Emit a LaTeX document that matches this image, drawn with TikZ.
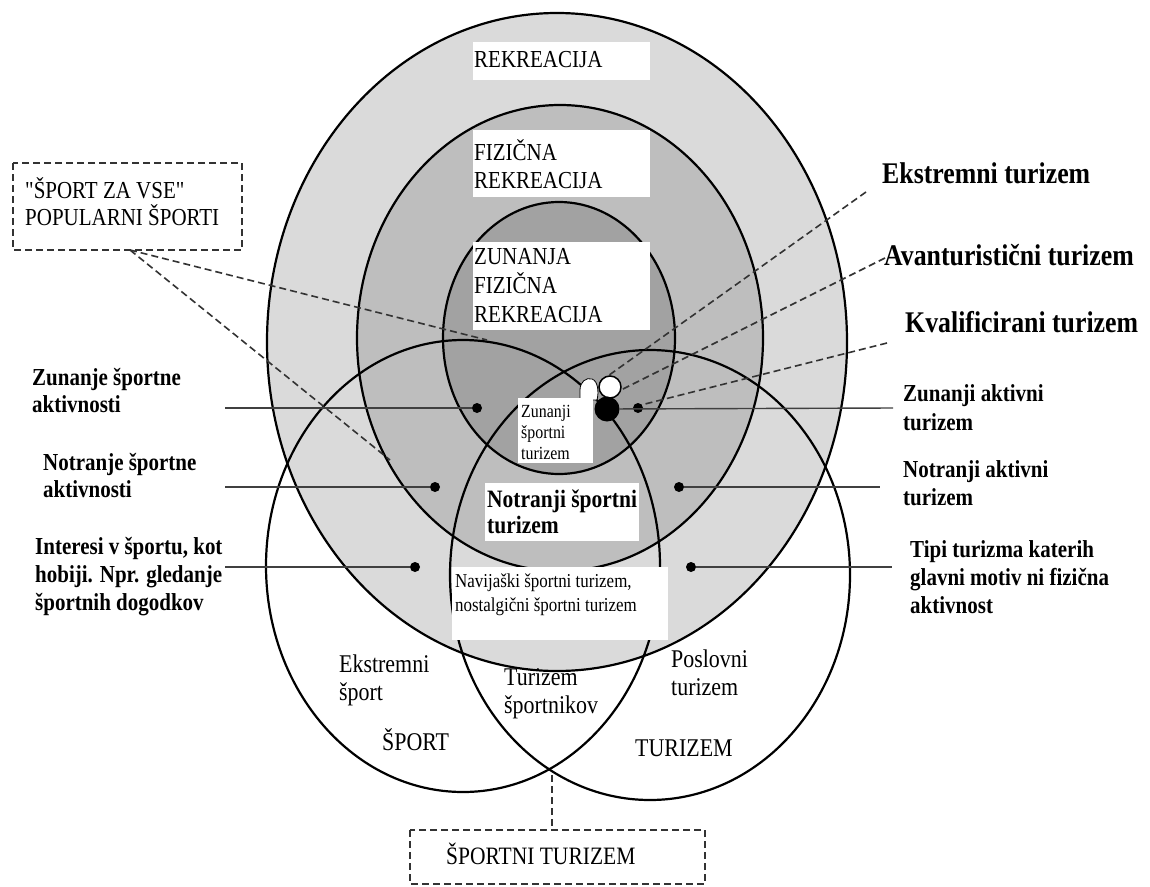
\documentclass[tikz,border=0pt]{standalone}
\usepackage{fontspec}
\setmainfont{Liberation Serif}[Ligatures=TeXOff, FakeStretch=0.86]
\definecolor{cA}{HTML}{DADADA}
\definecolor{cB}{HTML}{BEBEBE}
\definecolor{cC}{HTML}{A2A2A2}
\begin{document}
\begin{tikzpicture}[x=1pt,y=-1pt,
  ring/.style={draw=black, line width=2.2pt},
  hline/.style={draw=black!75, line width=1.4pt},
  dline/.style={draw=black!80, line width=1.6pt, dash pattern=on 7pt off 4pt},
  dotnode/.style={circle, fill=black, inner sep=0pt, minimum size=10pt},
  lbl/.style={font=\bfseries\fontsize{24.4}{28}\selectfont, align=left, inner sep=0pt, anchor=base west},
  biglbl/.style={font=\bfseries\fontsize{30}{34}\selectfont, inner sep=0pt, anchor=base west},
  boxtxt/.style={font=\fontsize{24.4}{29}\selectfont, align=left, inner sep=0pt, anchor=base west},
  circtxt/.style={font=\fontsize{25.5}{28}\selectfont, align=left, inner sep=0pt, anchor=base west}]
\useasboundingbox (0,0) rectangle (1150,886);
\fill[white] (0,0) rectangle (1150,886);
% nested rings
\filldraw[ring, fill=cA] (557,342) ellipse [x radius=290pt, y radius=329pt];
\filldraw[ring, fill=cB] (560,338) ellipse [x radius=203pt, y radius=233pt];
\filldraw[ring, fill=cC] (559,338) ellipse [x radius=116pt, y radius=136pt];
% lower circles
\draw[ring] (463,566) ellipse [x radius=197pt, y radius=226pt];
\draw[ring] (650,575) ellipse [x radius=200pt, y radius=225pt];
% white boxes
\fill[white] (473,42) rectangle (650,80);
\fill[white] (473,130) rectangle (650,197);
\fill[white] (473,242) rectangle (650,330);
\fill[white] (485,483) rectangle (639,541);
\fill[white] (452,567) rectangle (668,640);
% blob and box of Zunanji sportni turizem
\filldraw[fill=white, draw=black, line width=0.8pt] (580,400) -- (580,390) .. controls (580,382) and (586,377) .. (592,379) .. controls (598,381) and (599,392) .. (597,400) -- cycle;
\fill[white] (518,398) rectangle (593,463);
% dashed boxes
\draw[dline] (13,163) rectangle (242,250);
\draw[dline] (410,830) rectangle (705,884);
% coordinates
\coordinate (sv) at (130,250);
\coordinate (svA) at (487,340);
\coordinate (svB) at (390,460);
\coordinate (lens) at (552,775);
\coordinate (stTop) at (552,830);
\coordinate (eEnd) at (866,192);
\coordinate (aEnd) at (885,258);
\coordinate (kEnd) at (887,343);
\coordinate (eTip) at (598,383);
\coordinate (aTip) at (613,394);
\coordinate (kTip) at (645,404);
\draw[dline] (sv) -- (svA);
\draw[dline] (sv) -- (svB);
\draw[dline] (lens) -- (stTop);
\draw[dline] (eEnd) -- (eTip);
\draw[dline] (aEnd) -- (aTip);
\draw[dline] (kEnd) -- (kTip);
% small circle and big dot
\node[circle, fill=white, draw=black, line width=1.5pt, inner sep=0pt, minimum width=22pt, minimum height=20pt] (wc) at (610,387) {};
\node[circle, fill=black, inner sep=0pt, minimum size=25pt] (bd) at (607,409) {};
% dots
\node[dotnode] (d1) at (477,408) {};
\node[dotnode] (d2) at (435,487) {};
\node[dotnode] (d3) at (415,567) {};
\node[dotnode] (d4) at (638,408) {};
\node[dotnode] (d5) at (679,487) {};
\node[dotnode] (d6) at (691,567) {};
\coordinate (l1) at (225,408);
\coordinate (l2) at (225,487);
\coordinate (l3) at (225,567);
\coordinate (r1) at (893,408);
\coordinate (r2) at (880,487);
\coordinate (r3) at (892,567);
\draw[hline] (l1) -- (d1);
\draw[hline] (l2) -- (d2);
\draw[hline] (l3) -- (d3);
\draw[hline] (bd) -- (r1);
\draw[hline] (d5) -- (r2);
\draw[hline] (d6) -- (r3);
% texts in boxes (anchor = baseline of last line)
\node[boxtxt] (tR) at (474,67) {REKREACIJA};
\node[boxtxt, font=\fontsize{24.4}{28}\selectfont] (tF) at (474,188) {FIZIČNA\\REKREACIJA};
\node[boxtxt] (tZ) at (474,322) {ZUNANJA\\FIZIČNA\\REKREACIJA};
\node[font=\fontsize{18.5}{21}\selectfont, align=left, inner sep=0pt, anchor=base west] (tZst) at (521,459) {Zunanji\\športni\\turizem};
\node[font=\bfseries\fontsize{25}{26}\selectfont, align=left, inner sep=0pt, anchor=base west] (tNst) at (487,533) {Notranji športni\\turizem};
\node[font=\fontsize{19.7}{24}\selectfont, align=left, inner sep=0pt, anchor=base west] (tNav) at (455,611) {Navijaški športni turizem,\\nostalgični športni turizem};
\node[boxtxt, font=\fontsize{24.4}{27}\selectfont] (tSV) at (25,225) {"ŠPORT ZA VSE"\\POPULARNI ŠPORTI};
\node[boxtxt, font=\fontsize{25}{26}\selectfont] (tST) at (446,864) {ŠPORTNI TURIZEM};
% circle texts
\node[circtxt] (tEs) at (339,700) {Ekstremni\\šport};
\node[circtxt] (tSp) at (382,750) {ŠPORT};
\node[circtxt] (tTs) at (504,713) {Turizem\\športnikov};
\node[circtxt] (tPt) at (671,695) {Poslovni\\turizem};
\node[circtxt] (tTu) at (635,756) {TURIZEM};
% side labels
\node[lbl, font=\bfseries\fontsize{24.4}{27}\selectfont] (tZs) at (32,412) {Zunanje športne\\aktivnosti};
\node[lbl, font=\bfseries\fontsize{24.4}{27}\selectfont] (tNs) at (43,497) {Notranje športne\\aktivnosti};
\node[lbl] (tIs) at (35,610) {Interesi v športu, kot\\hobiji. Npr. gledanje\\športnih dogodkov};
\node[lbl, font=\bfseries\fontsize{24.4}{29}\selectfont] (tZa) at (903,430) {Zunanji aktivni\\turizem};
\node[lbl] (tNa) at (903,505) {Notranji aktivni\\turizem};
\node[lbl] (tTi) at (910,613) {Tipi turizma katerih\\glavni motiv ni fizična\\aktivnost};
\node[biglbl] (tEk) at (882,183) {Ekstremni turizem};
\node[biglbl] (tAv) at (884,265) {Avanturistični turizem};
\node[biglbl] (tKv) at (905,332) {Kvalificirani turizem};
\end{tikzpicture}
\end{document}
